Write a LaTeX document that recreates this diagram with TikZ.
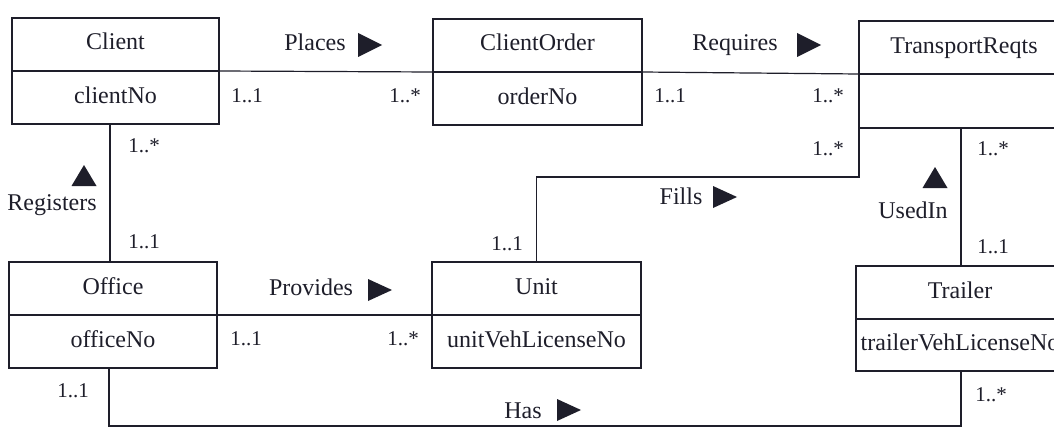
\documentclass[tikz,border=0pt]{standalone}
\usepackage{fontspec}
\setmainfont{Liberation Serif}
\definecolor{ink}{RGB}{30,30,42}
\begin{document}
\begin{tikzpicture}[x=1pt,y=-1pt,
  cls/.style={draw=ink, text=ink, line width=1.2pt, inner sep=0pt, outer sep=0pt, anchor=north west,
    font=\fontsize{24}{28}\selectfont, text height=16pt, text depth=5pt},
  lbl/.style={anchor=base, inner sep=0pt, text=ink, font=\fontsize{24}{28}\selectfont},
  mult/.style={anchor=base, inner sep=0pt, text=ink, font=\fontsize{21}{24}\selectfont},
  conn/.style={draw=ink, line width=1.2pt},
  tri/.style={fill=ink}
]
\useasboundingbox (0,0) rectangle (1054,428);
\clip (0,0) rectangle (1054,428);
\fill[white] (0,0) rectangle (1054,428);

% classes
\node[cls, minimum width=207pt, minimum height=53pt] (clientH) at (12,18) {Client};
\node[cls, minimum width=207pt, minimum height=53pt] (clientA) at (clientH.south west) {clientNo};

\node[cls, minimum width=209pt, minimum height=53pt] (orderH) at (433,19) {ClientOrder};
\node[cls, minimum width=209pt, minimum height=53pt] (orderA) at (orderH.south west) {orderNo};

\node[cls, minimum width=210pt, minimum height=53pt] (transH) at (859,21) {TransportReqts};
\node[cls, minimum width=210pt, minimum height=54pt] (transA) at (transH.south west) {};

\node[cls, minimum width=208pt, minimum height=53pt] (officeH) at (9,262) {Office};
\node[cls, minimum width=208pt, minimum height=53pt] (officeA) at (officeH.south west) {officeNo};

\node[cls, minimum width=209pt, minimum height=53pt] (unitH) at (432,262) {Unit};
\node[cls, minimum width=209pt, minimum height=53pt] (unitA) at (unitH.south west) {unitVehLicenseNo};

\node[cls, minimum width=208pt, minimum height=53pt] (trailH) at (856,266) {Trailer};
\node[cls, minimum width=208pt, minimum height=52pt] (trailA) at (trailH.south west) {trailerVehLicenseNo};

% helper coordinates
\coordinate (regx) at (110,0);
\coordinate (fillc) at (859,177);
\coordinate (usex) at (961,0);
\coordinate (hasx) at (109,0);
\coordinate (hasy) at (0,426);

% connectors
\draw[conn] (clientH.south east) -- (orderH.south west);
\draw[conn] (orderH.south east) -- (transH.south west);
\draw[conn] (regx |- clientA.south) -- (regx |- officeH.north);
\draw[conn] (officeH.south east) -- (unitH.south west);
\draw[conn] (unitH.north) |- (fillc) -- (transA.south west);
\draw[conn] (usex |- transA.south) -- (usex |- trailH.north);
\draw[conn] (hasx |- officeA.south) |- (hasy -| usex) -- (usex |- trailA.south);

% association labels
\node[lbl] (places) at (315,51) {Places};
\node[lbl] (requires) at (735,51) {Requires};
\node[lbl] (fills) at (681,204) {Fills};
\node[lbl] (registers) at (52,210) {Registers};
\node[lbl] (usedin) at (913,218) {UsedIn};
\node[lbl] (provides) at (311,295) {Provides};
\node[lbl] (has) at (523,418) {Has};

% direction triangles
\fill[tri] (370,45) ++(-12,-12) -- ++(24,12) -- ++(-24,12) -- cycle;
\fill[tri] (809,45) ++(-12,-12) -- ++(24,12) -- ++(-24,12) -- cycle;
\fill[tri] (725,197) ++(-12,-11) -- ++(24,11) -- ++(-24,11) -- cycle;
\fill[tri] (380,290) ++(-12,-11) -- ++(24,11) -- ++(-24,11) -- cycle;
\fill[tri] (569,410) ++(-12,-11) -- ++(24,11) -- ++(-24,11) -- cycle;
\fill[tri] (84,176) ++(-12.5,10) -- ++(25,0) -- ++(-12.5,-21) -- cycle;
\fill[tri] (935,178) ++(-12.5,10) -- ++(25,0) -- ++(-12.5,-21) -- cycle;

% multiplicities
\node[mult] (m1) at (247,102) {1..1};
\node[mult] (m2) at (405,102) {1..*};
\node[mult] (m3) at (670,102) {1..1};
\node[mult] (m4) at (828,102) {1..*};
\node[mult] (m5) at (828,155) {1..*};
\node[mult] (m6) at (144,152) {1..*};
\node[mult] (m7) at (144,248) {1..1};
\node[mult] (m8) at (507,250) {1..1};
\node[mult] (m9) at (993,155) {1..*};
\node[mult] (m10) at (993,253) {1..1};
\node[mult] (m11) at (246,345) {1..1};
\node[mult] (m12) at (403,345) {1..*};
\node[mult] (m13) at (73,397) {1..1};
\node[mult] (m14) at (991,401) {1..*};
\end{tikzpicture}
\end{document}
